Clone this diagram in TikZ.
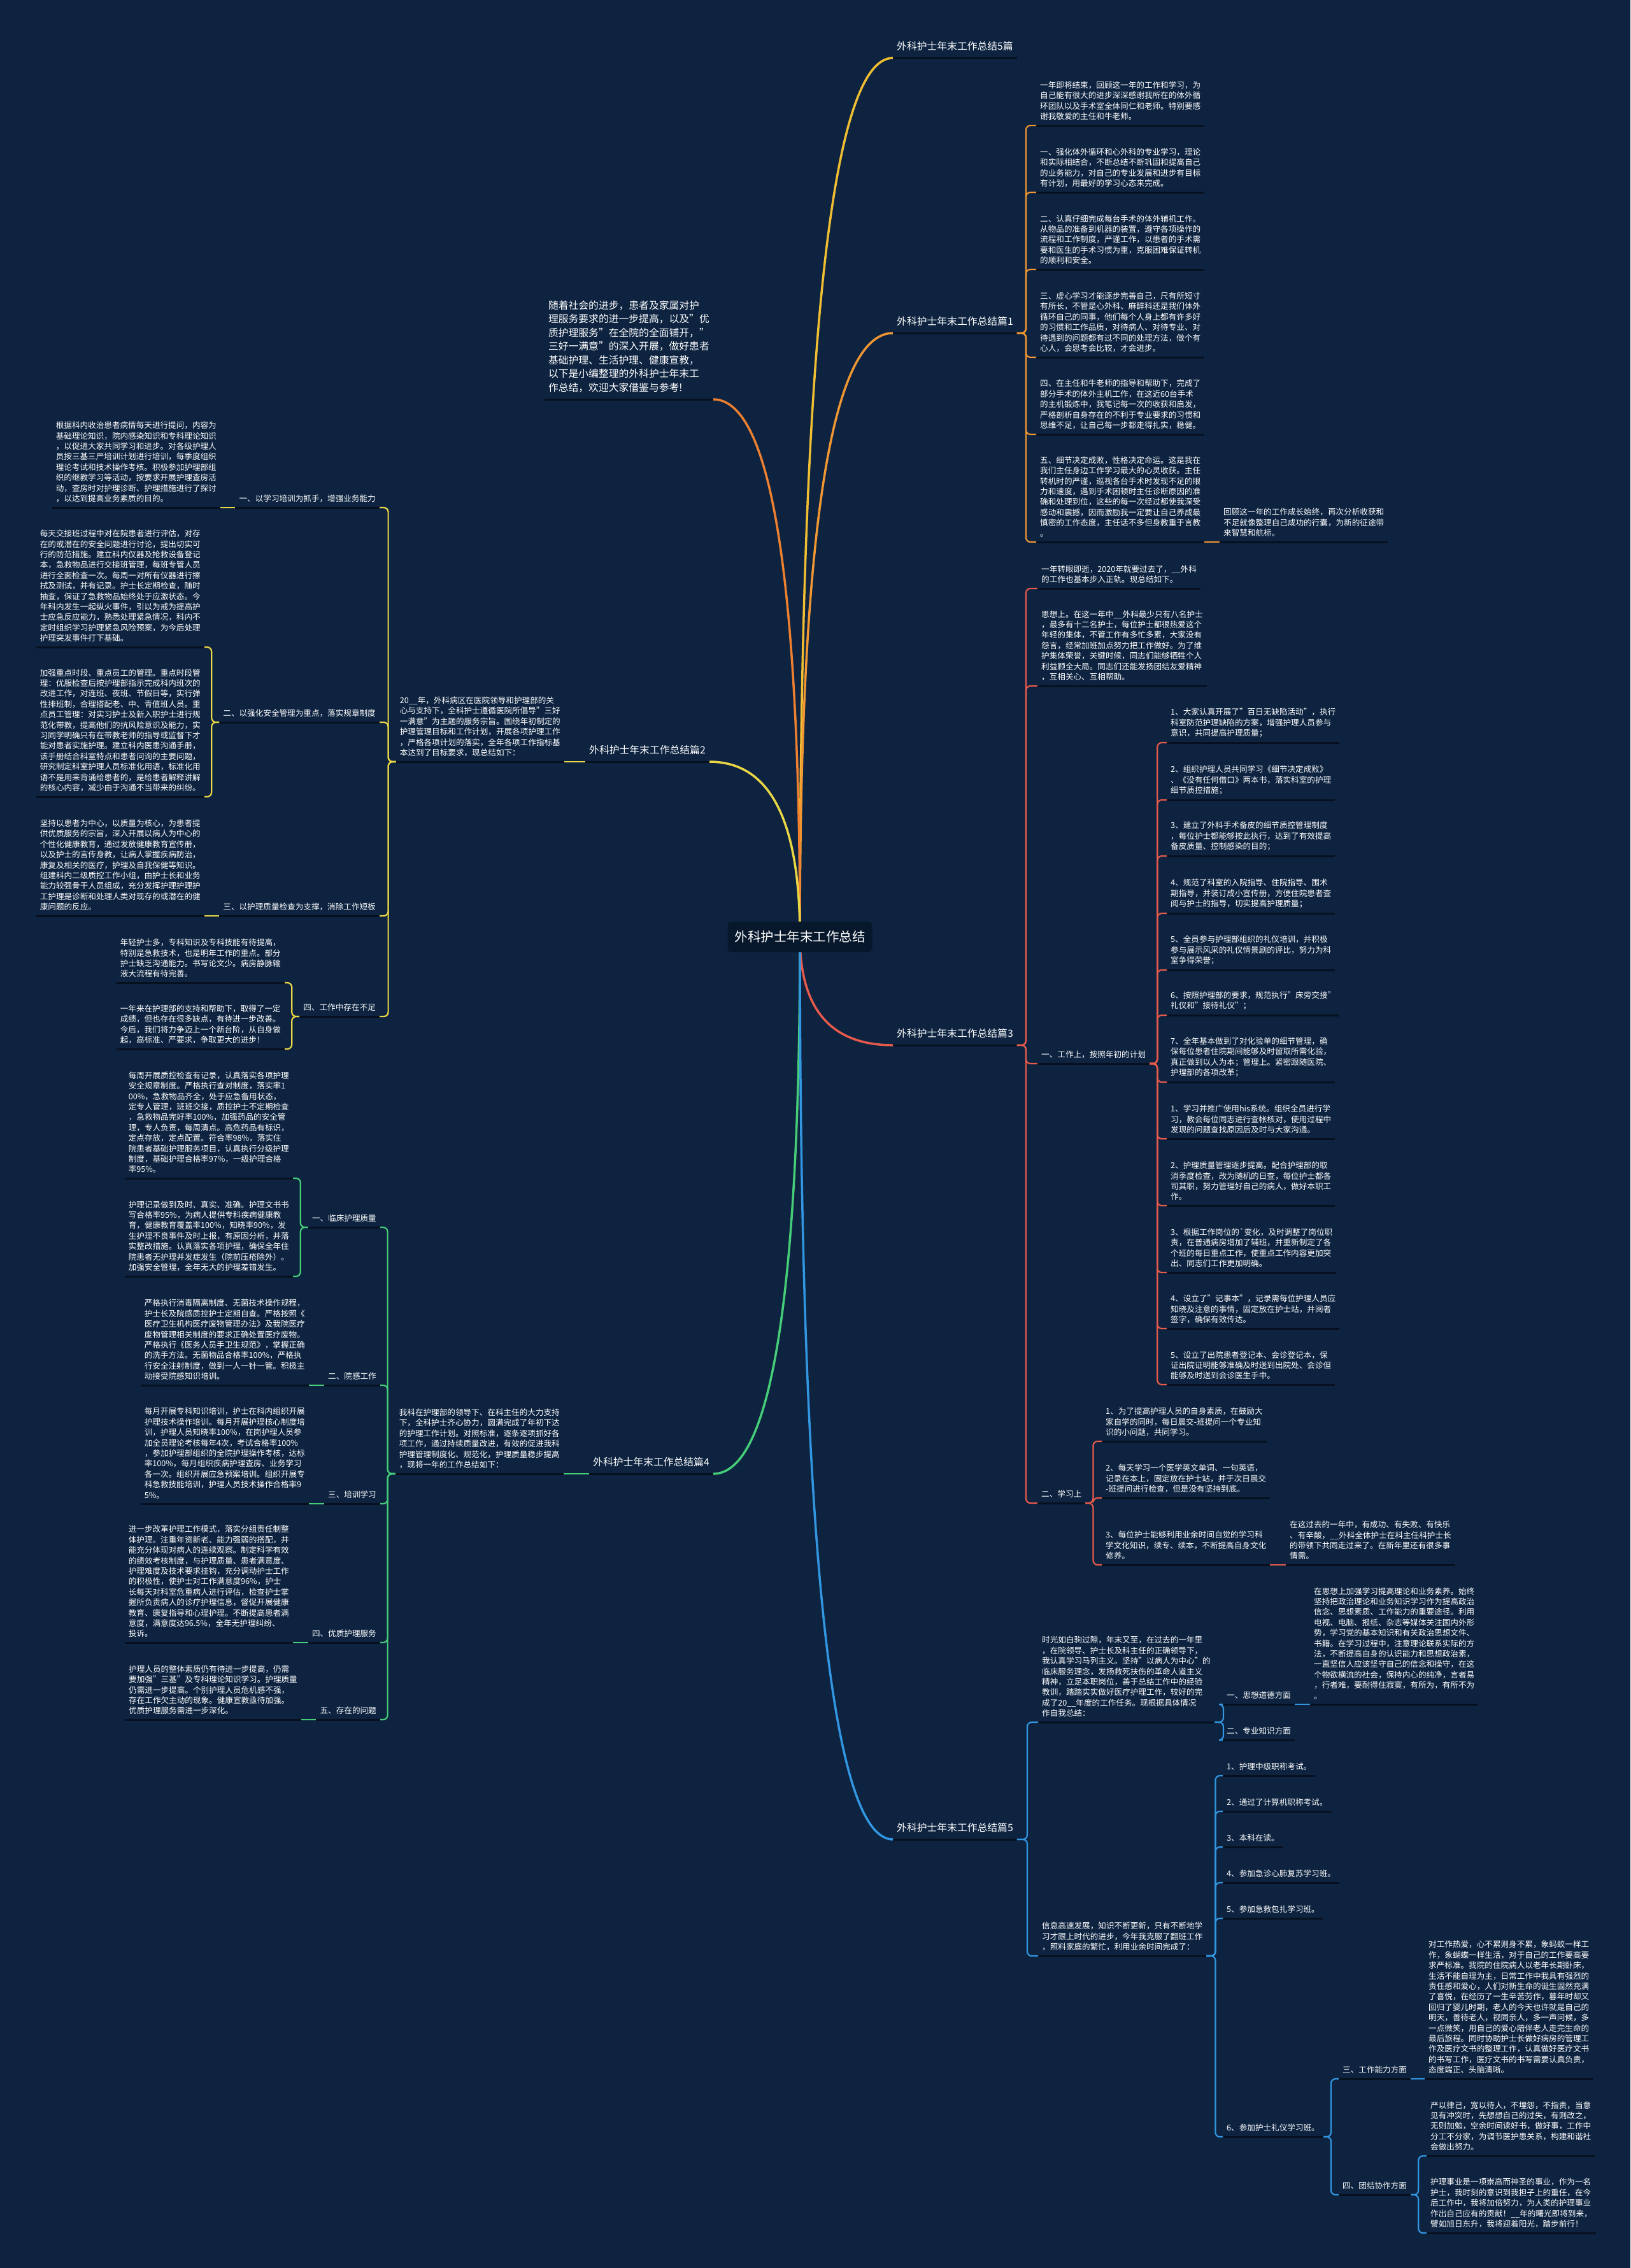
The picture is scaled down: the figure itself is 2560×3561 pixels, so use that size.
\documentclass[tikz,border=0pt]{standalone}
\usepackage{fontspec}
\setmainfont{Noto Sans CJK SC}
\usetikzlibrary{calc}
\definecolor{bgc}{RGB}{13,35,64}
\definecolor{rootc}{RGB}{8,24,44}
\definecolor{ulc}{RGB}{6,16,30}
\definecolor{cT}{RGB}{240,190,50}
\definecolor{cA}{RGB}{240,150,50}
\definecolor{cI}{RGB}{238,128,48}
\definecolor{cB}{RGB}{235,215,70}
\definecolor{cC}{RGB}{232,90,75}
\definecolor{cD}{RGB}{70,205,120}
\definecolor{cE}{RGB}{50,150,225}
\pgfdeclarelayer{bg}
\pgfdeclarelayer{edges}
\pgfsetlayers{bg,edges,main}

\begin{document}
\begin{tikzpicture}[x=1pt, y=-1pt,
  every node/.style={text=white},
  leaf/.style={anchor=south west, align=left, inner xsep=6pt, inner ysep=8pt,
    font=\fontsize{12.6}{16.4}\selectfont},
  leafl/.style={leaf, anchor=south east},
  lvl1/.style={leaf, inner ysep=11pt, font=\fontsize{15.8}{20}\selectfont},
  lvl1l/.style={lvl1, anchor=south east},
  uline/.style={draw=ulc, line width=3pt},
  brT/.style={draw=cT, line width=3.5pt},
  brA/.style={draw=cA, line width=2.2pt, rounded corners=7pt},
  brI/.style={draw=cI, line width=3.5pt},
  brB/.style={draw=cB, line width=2.2pt, rounded corners=7pt},
  brC/.style={draw=cC, line width=2.2pt, rounded corners=7pt},
  brD/.style={draw=cD, line width=2.2pt, rounded corners=7pt},
  brE/.style={draw=cE, line width=2.2pt, rounded corners=7pt}]

\begin{pgfonlayer}{bg}
  \fill[bgc] (0,0) rectangle (2560,3561);
\end{pgfonlayer}
\useasboundingbox (0,0) rectangle (2560,3561);

\node[fill=rootc, rounded corners=6pt, minimum width=227pt, minimum height=48pt,
  font=\fontsize{20.5}{24}\selectfont] (root) at (1256,1471) {外科护士年末工作总结};

% level 1
\node[lvl1] (t0) at (1402,91) {外科护士年末工作总结5篇};
\node[lvl1] (p1) at (1402,523) {外科护士年末工作总结篇1};
\node[lvl1] (p3) at (1402,1641) {外科护士年末工作总结篇3};
\node[lvl1] (p5) at (1402,2888) {外科护士年末工作总结篇5};
\node[lvl1l] (p2) at (1114,1196) {外科护士年末工作总结篇2};
\node[lvl1l] (p4) at (1120,2314) {外科护士年末工作总结篇4};
\node[lvl1l, font=\fontsize{15.8}{21.5}\selectfont] (p0) at (1120,627) {随着社会的进步，患者及家属对护\\理服务要求的进一步提高，以及"优\\质护理服务"在全院的全面铺开，"\\三好一满意"的深入开展，做好患者\\基础护理、生活护理、健康宣教，\\以下是小编整理的外科护士年末工\\作总结，欢迎大家借鉴与参考!};

% 篇1
\node[leaf] (a1) at (1627,197) {一年即将结束，回顾这一年的工作和学习，为\\自己能有很大的进步深深感谢我所在的体外循\\环团队以及手术室全体同仁和老师。特别要感\\谢我敬爱的主任和牛老师。};
\node[leaf] (a2) at (1627,302) {一、强化体外循环和心外科的专业学习，理论\\和实际相结合，不断总结不断巩固和提高自己\\的业务能力，对自己的专业发展和进步有目标\\有计划，用最好的学习心态来完成。};
\node[leaf] (a3) at (1627,423) {二、认真仔细完成每台手术的体外辅机工作。\\从物品的准备到机器的装置，遵守各项操作的\\流程和工作制度，严谨工作，以患者的手术需\\要和医生的手术习惯为重，克服困难保证转机\\的顺利和安全。};
\node[leaf] (a4) at (1627,561) {三、虚心学习才能逐步完善自己，尺有所短寸\\有所长，不管是心外科、麻醉科还是我们体外\\循环自己的同事，他们每个人身上都有许多好\\的习惯和工作品质，对待病人、对待专业、对\\待遇到的问题都有过不同的处理方法，做个有\\心人，会思考会比较，才会进步。};
\node[leaf] (a5) at (1627,682) {四、在主任和牛老师的指导和帮助下，完成了\\部分手术的体外主机工作，在这近60台手术\\的主机锻炼中，我笔记每一次的收获和启发，\\严格剖析自身存在的不利于专业要求的习惯和\\思维不足，让自己每一步都走得扎实，稳健。};
\node[leaf] (a6) at (1627,851) {五、细节决定成败，性格决定命运。这是我在\\我们主任身边工作学习最大的心灵收获。主任\\转机时的严谨，巡视各台手术时发现不足的眼\\力和速度，遇到手术困顿时主任诊断原因的准\\确和处理到位，这些的每一次经过都使我深受\\感动和震撼，因而激励我一定要让自己养成最\\慎密的工作态度，主任话不多但身教重于言教\\。};
\node[leaf] (a7) at (1915,851) {回顾这一年的工作成长始终，再次分析收获和\\不足就像整理自己成功的行囊，为新的征途带\\来智慧和航标。};

% 篇3
\node[leaf] (b1) at (1629,924) {一年转眼即逝，2020年就要过去了，\_\_外科\\的工作也基本步入正轨。现总结如下。};
\node[leaf] (b2) at (1629,1077) {思想上。在这一年中\_\_外科最少只有八名护士\\，最多有十二名护士，每位护士都很热爱这个\\年轻的集体，不管工作有多忙多累，大家没有\\怨言，经常加班加点努力把工作做好。为了维\\护集体荣誉，关键时候，同志们能够牺牲个人\\利益顾全大局。同志们还能发扬团结友爱精神\\，互相关心、互相帮助。};
\node[leaf] (b3) at (1629,1670) {一、工作上，按照年初的计划};
\node[leaf] (b4) at (1629,2360) {二、学习上};
\node[leaf] (c1) at (1832,1166) {1、大家认真开展了"百日无缺陷活动"，执行\\科室防范护理缺陷的方案，增强护理人员参与\\意识，共同提高护理质量；};
\node[leaf] (c2) at (1832,1256) {2、组织护理人员共同学习《细节决定成败》\\、《没有任何借口》两本书，落实科室的护理\\细节质控措施；};
\node[leaf] (c3) at (1832,1344) {3、建立了外科手术备皮的细节质控管理制度\\，每位护士都能够按此执行，达到了有效提高\\备皮质量、控制感染的目的；};
\node[leaf] (c4) at (1832,1434) {4、规范了科室的入院指导、住院指导、围术\\期指导，并装订成小宣传册，方便住院患者查\\阅与护士的指导，切实提高护理质量；};
\node[leaf] (c5) at (1832,1523) {5、全员参与护理部组织的礼仪培训，并积极\\参与展示风采的礼仪情景剧的评比，努力为科\\室争得荣誉；};
\node[leaf] (c6) at (1832,1594) {6、按照护理部的要求，规范执行"床旁交接"\\礼仪和"接待礼仪"；};
\node[leaf] (c7) at (1832,1699) {7、全年基本做到了对化验单的细节管理，确\\保每位患者住院期间能够及时留取所需化验，\\真正做到以人为本；管理上。紧密跟随医院、\\护理部的各项改革；};
\node[leaf] (c8) at (1832,1788) {1、学习并推广使用his系统。组织全员进行学\\习，教会每位同志进行查帐核对，使用过程中\\发现的问题查找原因后及时与大家沟通。};
\node[leaf] (c9) at (1832,1893) {2、护理质量管理逐步提高。配合护理部的取\\消季度检查，改为随机的日查，每位护士都各\\司其职，努力管理好自己的病人，做好本职工\\作。};
\node[leaf] (c10) at (1832,1998) {3、根据工作岗位的\textasciigrave 变化，及时调整了岗位职\\责，在普通病房增加了辅班，并重新制定了各\\个班的每日重点工作，使重点工作内容更加突\\出、同志们工作更加明确。};
\node[leaf] (c11) at (1832,2086) {4、设立了"记事本"，记录需每位护理人员应\\知晓及注意的事情，固定放在护士站，并阅者\\签字，确保有效传达。};
\node[leaf] (c12) at (1832,2174) {5、设立了出院患者登记本、会诊登记本，保\\证出院证明能够准确及时送到出院处、会诊但\\能够及时送到会诊医生手中。};
\node[leaf] (d1) at (1730,2263) {1、为了提高护理人员的自身素质，在鼓励大\\家自学的同时，每日晨交-班提问一个专业知\\识的小问题，共同学习。};
\node[leaf] (d2) at (1730,2352) {2、每天学习一个医学英文单词、一句英语，\\记录在本上，固定放在护士站，并于次日晨交\\-班提问进行检查，但是没有坚持到底。};
\node[leaf] (d3) at (1730,2457) {3、每位护士能够利用业余时间自觉的学习科\\学文化知识，续专、续本，不断提高自身文化\\修养。};
\node[leaf] (d4) at (2019,2457) {在这过去的一年中，有成功、有失败、有快乐\\、有辛酸，\_\_外科全体护士在科主任科护士长\\的带领下共同走过来了。在新年里还有很多事\\情需。};

% 篇5
\node[leaf] (e1) at (1630,2704) {时光如白驹过隙，年末又至，在过去的一年里\\，在院领导、护士长及科主任的正确领导下，\\我认真学习马列主义。坚持"以病人为中心"的\\临床服务理念，发扬救死扶伤的革命人道主义\\精神，立足本职岗位，善于总结工作中的经验\\教训，踏踏实实做好医疗护理工作，较好的完\\成了20\_\_年度的工作任务。现根据具体情况\\作自我总结：};
\node[leaf] (e2) at (1630,3071) {信息高速发展，知识不断更新，只有不断地学\\习才跟上时代的进步，今年我克服了翻班工作\\，照料家庭的繁忙，利用业余时间完成了：};
\node[leaf] (f1) at (1920,2676) {一、思想道德方面};
\node[leaf] (f2) at (1920,2732) {二、专业知识方面};
\node[leaf] (f3) at (2057,2676) {在思想上加强学习提高理论和业务素养。始终\\坚持把政治理论和业务知识学习作为提高政治\\信念、思想素质、工作能力的重要途径。利用\\电视、电脑、报纸、杂志等媒体关注国内外形\\势，学习党的基本知识和有关政治思想文件、\\书籍。在学习过程中，注意理论联系实际的方\\法，不断提高自身的认识能力和思想政治素，\\一直坚信人应该坚守自己的信念和操守，在这\\个物欲横流的社会，保持内心的纯净，言者易\\，行者难，要耐得住寂寞，有所为，有所不为\\。};
\node[leaf] (g1) at (1920,2788) {1、护理中级职称考试。};
\node[leaf] (g2) at (1920,2844) {2、通过了计算机职称考试。};
\node[leaf] (g3) at (1920,2900) {3、本科在读。};
\node[leaf] (g4) at (1920,2956) {4、参加急诊心肺复苏学习班。};
\node[leaf] (g5) at (1920,3012) {5、参加急救包扎学习班。};
\node[leaf] (g6) at (1920,3355) {6、参加护士礼仪学习班。};
\node[leaf] (h1) at (2102,3264) {三、工作能力方面};
\node[leaf] (h2) at (2102,3446) {四、团结协作方面};
\node[leaf] (h3) at (2237,3264) {对工作热爱，心不累则身不累，象蚂蚁一样工\\作，象蝴蝶一样生活，对于自己的工作要高要\\求严标准。我院的住院病人以老年长期卧床，\\生活不能自理为主，日常工作中我具有强烈的\\责任感和爱心，人们对新生命的诞生固然充满\\了喜悦，在经历了一生辛苦劳作，暮年时却又\\回归了婴儿时期，老人的今天也许就是自己的\\明天，善待老人，视同亲人，多一声问候，多\\一点微笑，用自己的爱心陪伴老人走完生命的\\最后旅程。同时协助护士长做好病房的管理工\\作及医疗文书的整理工作，认真做好医疗文书\\的书写工作，医疗文书的书写需要认真负责，\\态度端正、头脑清晰。};
\node[leaf] (h4) at (2240,3385) {严以律己，宽以待人，不埋怨，不指责，当意\\见有冲突时，先想想自己的过失，有则改之，\\无则加勉，空余时间读好书，做好事，工作中\\分工不分家，为调节医护患关系，构建和谐社\\会做出努力。};
\node[leaf] (h5) at (2240,3506) {护理事业是一项崇高而神圣的事业，作为一名\\护士，我时刻的意识到我担子上的重任，在今\\后工作中，我将加倍努力，为人类的护理事业\\作出自己应有的贡献！\_\_年的曙光即将到来，\\譬如旭日东升，我将迎着阳光，踏步前行！};

% 篇2
\node[leafl] (q0) at (886,1196) {20\_\_年，外科病区在医院领导和护理部的关\\心与支持下，全科护士遵循医院所倡导"三好\\一满意"为主题的服务宗旨。围绕年初制定的\\护理管理目标和工作计划，开展各项护理工作\\，严格各项计划的落实，全年各项工作指标基\\本达到了目标要求，现总结如下：};
\node[leafl] (r1) at (596,797) {一、以学习培训为抓手，增强业务能力};
\node[leafl] (r2) at (596,1134) {二、以强化安全管理为重点，落实规章制度};
\node[leafl] (r3) at (596,1438) {三、以护理质量检查为支撑，消除工作短板};
\node[leafl] (r4) at (596,1596) {四、工作中存在不足};
\node[leafl] (s1) at (346,797) {根据科内收治患者病情每天进行提问，内容为\\基础理论知识，院内感染知识和专科理论知识\\，以促进大家共同学习和进步。对各级护理人\\员按三基三严培训计划进行培训，每季度组织\\理论考试和技术操作考核。积极参加护理部组\\织的继教学习等活动，按要求开展护理查房活\\动，查房时对护理诊断、护理措施进行了探讨\\，以达到提高业务素质的目的。};
\node[leafl] (s2) at (321,1016) {每天交接班过程中对在院患者进行评估，对存\\在的或潜在的安全问题进行讨论，提出切实可\\行的防范措施。建立科内仪器及抢救设备登记\\本，急救物品进行交接班管理，每班专管人员\\进行全面检查一次。每周一对所有仪器进行擦\\拭及测试，并有记录。护士长定期检查，随时\\抽查，保证了急救物品始终处于应激状态。今\\年科内发生一起纵火事件，引以为戒为提高护\\士应急反应能力，熟悉处理紧急情况，科内不\\定时组织学习护理紧急风险预案，为今后处理\\护理突发事件打下基础。};
\node[leafl] (s3) at (321,1251) {加强重点时段、重点员工的管理。重点时段管\\理：优服检查后按护理部指示完成科内班次的\\改进工作，对连班、夜班、节假日等，实行弹\\性排班制，合理搭配老、中、青值班人员。重\\点员工管理：对实习护士及新入职护士进行规\\范化带教，提高他们的抗风险意识及能力，实\\习同学明确只有在带教老师的指导或监督下才\\能对患者实施护理。建立科内医患沟通手册，\\该手册结合科室特点和患者问询的主要问题，\\研究制定科室护理人员标准化用语，标准化用\\语不是用来背诵给患者的，是给患者解释讲解\\的核心内容，减少由于沟通不当带来的纠纷。};
\node[leafl] (s4) at (321,1438) {坚持以患者为中心，以质量为核心，为患者提\\供优质服务的宗旨，深入开展以病人为中心的\\个性化健康教育，通过发放健康教育宣传册，\\以及护士的言传身教，让病人掌握疾病防治，\\康复及相关的医疗，护理及自我保健等知识。\\组建科内二级质控工作小组，由护士长和业务\\能力较强骨干人员组成，充分发挥护理护理护\\工护理是诊断和处理人类对现存的或潜在的健\\康问题的反应。};
\node[leafl] (s5) at (447,1543) {年轻护士多，专科知识及专科技能有待提高，\\特别是急救技术，也是明年工作的重点。部分\\护士缺乏沟通能力。书写论文少。病房静脉输\\液大流程有待完善。};
\node[leafl] (s6) at (447,1647) {一年来在护理部的支持和帮助下，取得了一定\\成绩，但也存在很多缺点，有待进一步改善。\\今后，我们将力争迈上一个新台阶，从自身做\\起，高标准、严要求，争取更大的进步！};

% 篇4
\node[leafl] (u0) at (885,2314) {我科在护理部的领导下、在科主任的大力支持\\下，全科护士齐心协力，圆满完成了年初下达\\的护理工作计划。对照标准，逐条逐项抓好各\\项工作，通过持续质量改进，有效的促进我科\\护理管理制度化、规范化，护理质量稳步提高\\，现将一年的工作总结如下：};
\node[leafl] (v1) at (597,1927) {一、临床护理质量};
\node[leafl] (v2) at (597,2175) {二、院感工作};
\node[leafl] (v3) at (597,2361) {三、培训学习};
\node[leafl] (v4) at (597,2579) {四、优质护理服务};
\node[leafl] (v5) at (597,2700) {五、存在的问题};
\node[leafl] (w1) at (460,1850) {每周开展质控检查有记录，认真落实各项护理\\安全规章制度。严格执行查对制度，落实率1\\00\%，急救物品齐全，处于应急备用状态，\\定专人管理，班班交接，质控护士不定期检查\\，急救物品完好率100\%，加强药品的安全管\\理，专人负责，每周清点。高危药品有标识，\\定点存放，定点配置。符合率98\%，落实住\\院患者基础护理服务项目，认真执行分级护理\\制度，基础护理合格率97\%，一级护理合格\\率95\%。};
\node[leafl] (w2) at (460,2004) {护理记录做到及时、真实、准确。护理文书书\\写合格率95\%，为病人提供专科疾病健康教\\育，健康教育覆盖率100\%，知晓率90\%，发\\生护理不良事件及时上报，有原因分析，并落\\实整改措施。认真落实各项护理，确保全年住\\院患者无护理并发症发生（院前压疮除外）。\\加强安全管理，全年无大的护理差错发生。};
\node[leafl] (w3) at (485,2175) {严格执行消毒隔离制度、无菌技术操作规程，\\护士长及院感质控护士定期自查。严格按照《\\医疗卫生机构医疗废物管理办法》及我院医疗\\废物管理相关制度的要求正确处置医疗废物。\\严格执行《医务人员手卫生规范》，掌握正确\\的洗手方法。无菌物品合格率100\%，严格执\\行安全注射制度，做到一人一针一管。积极主\\动接受院感知识培训。};
\node[leafl] (w4) at (485,2361) {每月开展专科知识培训，护士在科内组织开展\\护理技术操作培训。每月开展护理核心制度培\\训，护理人员知晓率100\%，在岗护理人员参\\加全员理论考核每年4次，考试合格率100\%\\，参加护理部组织的全院护理操作考核，达标\\率100\%，每月组织疾病护理查房、业务学习\\各一次。组织开展应急预案培训。组织开展专\\科急救技能培训，护理人员技术操作合格率9\\5\%。};
\node[leafl] (w5) at (460,2579) {进一步改革护理工作模式，落实分组责任制整\\体护理。注重年资新老、能力强弱的搭配，并\\能充分体现对病人的连续观察。制定科学有效\\的绩效考核制度，与护理质量、患者满意度、\\护理难度及技术要求挂钩，充分调动护士工作\\的积极性，使护士对工作满意度96\%，护士\\长每天对科室危重病人进行评估，检查护士掌\\握所负责病人的诊疗护理信息，督促开展健康\\教育、康复指导和心理护理。不断提高患者满\\意度，满意度达96.5\%，全年无护理纠纷、\\投诉。};
\node[leafl] (w6) at (473,2700) {护理人员的整体素质仍有待进一步提高，仍需\\要加强"三基"及专科理论知识学习。护理质量\\仍需进一步提高。个别护理人员危机感不强，\\存在工作欠主动的现象。健康宣教亟待加强。\\优质护理服务需进一步深化。};

\begin{pgfonlayer}{edges}
  \foreach \n in {t0,p0,p1,p2,p3,p4,p5,a1,a2,a3,a4,a5,a6,a7,b1,b2,b3,b4,
      c1,c2,c3,c4,c5,c6,c7,c8,c9,c10,c11,c12,d1,d2,d3,d4,e1,e2,f1,f2,f3,
      g1,g2,g3,g4,g5,g6,h1,h2,h3,h4,h5,q0,r1,r2,r3,r4,s1,s2,s3,s4,s5,s6,
      u0,v1,v2,v3,v4,v5,w1,w2,w3,w4,w5,w6}
    \draw[uline] (\n.south west) -- (\n.south east);

  % from the root
  \draw[brT] (root.center) .. controls ($(root.center)!0.667!(root.center |- t0.south west)$) and ($(t0.south west)!0.667!(root.center |- t0.south west)$) .. (t0.south west);
  \draw[brA, line width=3.5pt] (root.center) .. controls ($(root.center)!0.667!(root.center |- p1.south west)$) and ($(p1.south west)!0.667!(root.center |- p1.south west)$) .. (p1.south west);
  \draw[brI] (root.center) .. controls ($(root.center)!0.667!(root.center |- p0.south east)$) and ($(p0.south east)!0.667!(root.center |- p0.south east)$) .. (p0.south east);
  \draw[brB, line width=3.5pt] (root.center) .. controls ($(root.center)!0.667!(root.center |- p2.south east)$) and ($(p2.south east)!0.667!(root.center |- p2.south east)$) .. (p2.south east);
  \draw[brC, line width=3.5pt] (root.center) .. controls ($(root.center)!0.667!(root.center |- p3.south west)$) and ($(p3.south west)!0.667!(root.center |- p3.south west)$) .. (p3.south west);
  \draw[brD, line width=3.5pt] (root.center) .. controls ($(root.center)!0.667!(root.center |- p4.south east)$) and ($(p4.south east)!0.667!(root.center |- p4.south east)$) .. (p4.south east);
  \draw[brE, line width=3.5pt] (root.center) .. controls ($(root.center)!0.667!(root.center |- p5.south west)$) and ($(p5.south west)!0.667!(root.center |- p5.south west)$) .. (p5.south west);

  % 篇1
  \foreach \n in {a1,a2,a3,a4,a5,a6}
    \draw[brA] (p1.south east) -- ++(14,0) |- (\n.south west);
  \draw[brA] (a6.south east) -- (a7.south west);

  % 篇3
  \foreach \n in {b1,b2,b3,b4}
    \draw[brC] (p3.south east) -- ++(14,0) |- (\n.south west);
  \foreach \n in {c1,c2,c3,c4,c5,c6,c7,c8,c9,c10,c11,c12}
    \draw[brC] (b3.south east) -- ++(12,0) |- (\n.south west);
  \foreach \n in {d1,d2,d3}
    \draw[brC] (b4.south east) -- ++(12,0) |- (\n.south west);
  \draw[brC] (d3.south east) -- (d4.south west);

  % 篇5
  \foreach \n in {e1,e2}
    \draw[brE] (p5.south east) -- ++(16,0) |- (\n.south west);
  \foreach \n in {f1,f2}
    \draw[brE] (e1.south east) -- ++(14,0) |- (\n.south west);
  \draw[brE] (f1.south east) -- (f3.south west);
  \foreach \n in {g1,g2,g3,g4,g5,g6}
    \draw[brE] (e2.south east) -- ++(14,0) |- (\n.south west);
  \foreach \n in {h1,h2}
    \draw[brE] (g6.south east) -- ++(12,0) |- (\n.south west);
  \draw[brE] (h1.south east) -- (h3.south west);
  \foreach \n in {h4,h5}
    \draw[brE] (h2.south east) -- ++(12,0) |- (\n.south west);

  % 篇2
  \draw[brB] (p2.south west) -- (q0.south east);
  \foreach \n in {r1,r2,r3,r4}
    \draw[brB] (q0.south west) -- ++(-12,0) |- (\n.south east);
  \draw[brB] (r1.south west) -- (s1.south east);
  \foreach \n in {s2,s3}
    \draw[brB] (r2.south west) -- ++(-12,0) |- (\n.south east);
  \draw[brB] (r3.south west) -- (s4.south east);
  \foreach \n in {s5,s6}
    \draw[brB] (r4.south west) -- ++(-12,0) |- (\n.south east);

  % 篇4
  \draw[brD] (p4.south west) -- (u0.south east);
  \foreach \n in {v1,v2,v3,v4,v5}
    \draw[brD] (u0.south west) -- ++(-12,0) |- (\n.south east);
  \foreach \n in {w1,w2}
    \draw[brD] (v1.south west) -- ++(-12,0) |- (\n.south east);
  \draw[brD] (v2.south west) -- (w3.south east);
  \draw[brD] (v3.south west) -- (w4.south east);
  \draw[brD] (v4.south west) -- (w5.south east);
  \draw[brD] (v5.south west) -- (w6.south east);
\end{pgfonlayer}
\end{tikzpicture}
\end{document}
